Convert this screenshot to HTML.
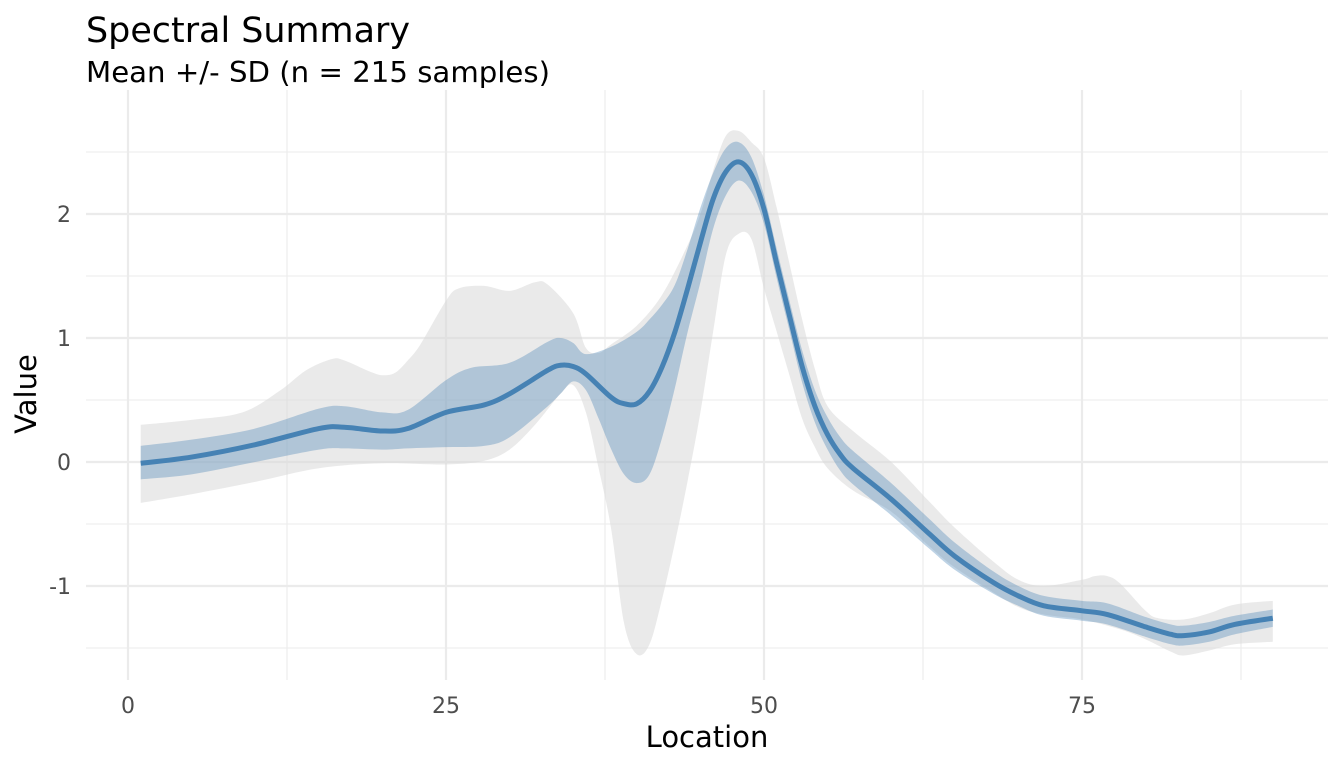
<!DOCTYPE html>
<html><head><meta charset="utf-8"><style>
body{margin:0;background:#fff;}
svg{display:block;font-family:"DejaVu Sans","Liberation Sans",sans-serif;}
</style></head><body>
<svg id="s" width="1344" height="768" xmlns="http://www.w3.org/2000/svg">
<rect width="1344" height="768" fill="#fff"/>
<g id="grid"></g>
<path id="outer" fill="#d9d9d9" fill-opacity="0.55" stroke="none"/>
<path id="inner" fill="#4682b4" fill-opacity="0.35" stroke="none"/>
<path id="mean" fill="none" stroke="#4682b4" stroke-width="5" stroke-linejoin="round"/>
<text x="86" y="42" font-size="35" fill="#000" textLength="324" lengthAdjust="spacingAndGlyphs">Spectral Summary</text>
<text x="86" y="82" font-size="28.5" fill="#000" textLength="464" lengthAdjust="spacingAndGlyphs">Mean +/- SD (n = 215 samples)</text>
<g font-size="22" fill="#4d4d4d" text-anchor="middle">
<text x="128" y="713">0</text><text x="446" y="713">25</text><text x="764" y="713">50</text><text x="1082" y="713">75</text>
</g>
<g font-size="22" fill="#4d4d4d" text-anchor="end">
<text x="71" y="594">-1</text><text x="71" y="470">0</text><text x="71" y="346">1</text><text x="71" y="222">2</text>
</g>
<text x="707" y="747" font-size="29" text-anchor="middle" fill="#000">Location</text>
<text transform="translate(36,394) rotate(-90)" font-size="29" text-anchor="middle" fill="#000">Value</text>
</svg>
<script>
const X=v=>128+v*12.72, Y=v=>462-v*124;
const ns="http://www.w3.org/2000/svg";
const g=document.getElementById('grid');
function line(x1,y1,x2,y2,w){const l=document.createElementNS(ns,'line');l.setAttribute('x1',x1);l.setAttribute('y1',y1);l.setAttribute('x2',x2);l.setAttribute('y2',y2);l.setAttribute('stroke','#ebebeb');l.setAttribute('stroke-width',w);g.appendChild(l);}
[-1.5,-0.5,0.5,1.5,2.5].forEach(v=>line(86,Y(v),1328,Y(v),1.1));
[12.5,37.5,62.5,87.5].forEach(v=>line(X(v),90,X(v),680,1.1));
[-1,0,1,2].forEach(v=>line(86,Y(v),1328,Y(v),2.2));
[0,25,50,75].forEach(v=>line(X(v),90,X(v),680,2.2));
const mean=[[1,-0.01],[5,0.04],[10,0.14],[15,0.27],[17,0.28],[20,0.25],[22,0.27],[25,0.4],[28,0.46],[30,0.55],[33,0.74],[34,0.78],[35,0.77],[36,0.71],[38,0.52],[39,0.47],[40,0.47],[41,0.57],[42,0.77],[43,1.05],[44,1.4],[45,1.77],[46,2.12],[47,2.34],[48,2.42],[49,2.32],[50,2.04],[51,1.6],[52,1.18],[53,0.77],[54,0.45],[55,0.22],[56,0.06],[57,-0.05],[60,-0.3],[63,-0.58],[65,-0.76],[68,-0.97],[70,-1.08],[72,-1.16],[75,-1.2],[77,-1.23],[80,-1.33],[82,-1.39],[83,-1.4],[85,-1.37],[87,-1.31],[90,-1.26]];
const iu=[[1,0.13],[5,0.18],[10,0.27],[15,0.43],[17,0.45],[20,0.4],[22,0.42],[25,0.66],[27,0.76],[30,0.8],[33,0.97],[34,1.0],[35,0.96],[36,0.87],[38,0.93],[40,1.05],[41,1.15],[42,1.27],[43,1.43],[44,1.72],[45,2.05],[46,2.33],[47,2.53],[48,2.58],[49,2.46],[50,2.15],[51,1.72],[52,1.3],[53,0.9],[54,0.58],[55,0.36],[56,0.2],[57,0.09],[60,-0.17],[63,-0.46],[65,-0.65],[68,-0.88],[70,-1.0],[72,-1.08],[75,-1.12],[77,-1.14],[80,-1.25],[82,-1.31],[83,-1.32],[85,-1.29],[87,-1.24],[90,-1.19]];
const il=[[1,-0.14],[5,-0.1],[10,0.0],[15,0.1],[17,0.11],[20,0.1],[22,0.11],[25,0.12],[28,0.13],[30,0.2],[33,0.45],[34,0.55],[35,0.65],[36,0.58],[37,0.35],[38,0.1],[39,-0.1],[40,-0.17],[41,-0.1],[42,0.2],[43,0.6],[44,1.05],[45,1.45],[46,1.88],[47,2.15],[48,2.27],[49,2.18],[50,1.92],[51,1.48],[52,1.06],[53,0.64],[54,0.32],[55,0.1],[56,-0.07],[57,-0.18],[60,-0.43],[63,-0.7],[65,-0.87],[68,-1.06],[70,-1.16],[72,-1.24],[75,-1.28],[77,-1.31],[80,-1.41],[82,-1.47],[83,-1.48],[85,-1.45],[87,-1.39],[90,-1.33]];
const ou=[[1,0.3],[5,0.34],[9,0.4],[12,0.58],[14,0.74],[16,0.83],[17,0.82],[19,0.73],[20,0.7],[21,0.72],[22,0.82],[23,0.95],[25,1.3],[26,1.4],[28,1.42],[30,1.38],[32,1.45],[33,1.43],[35,1.2],[36,0.92],[37,0.88],[38,0.95],[40,1.1],[42,1.35],[44,1.75],[45,2.0],[46,2.35],[47,2.63],[48,2.67],[49,2.58],[50,2.45],[51,2.05],[52,1.6],[53,1.15],[54,0.75],[55,0.45],[57,0.25],[60,0.0],[63,-0.32],[65,-0.53],[68,-0.8],[70,-0.95],[72,-1.0],[75,-0.95],[76,-0.92],[77,-0.92],[78,-0.98],[80,-1.2],[81,-1.26],[83,-1.27],[85,-1.22],[87,-1.15],[90,-1.12]];
const ol=[[1,-0.33],[5,-0.26],[10,-0.16],[15,-0.05],[20,-0.01],[25,-0.02],[28,0.01],[30,0.1],[32,0.3],[34,0.55],[35,0.62],[36,0.4],[37,-0.05],[38,-0.55],[39,-1.3],[40,-1.55],[41,-1.47],[42,-1.1],[43,-0.65],[44,-0.15],[45,0.4],[46,1.05],[47,1.67],[48,1.84],[49,1.8],[50,1.4],[51,1.05],[52,0.7],[53,0.35],[54,0.12],[55,-0.05],[57,-0.23],[60,-0.4],[63,-0.68],[65,-0.85],[68,-1.05],[70,-1.17],[72,-1.23],[75,-1.27],[78,-1.35],[80,-1.43],[82,-1.53],[83,-1.56],[85,-1.52],[87,-1.47],[90,-1.45]];
function pts(a){return a.map(p=>[X(p[0]),Y(p[1])]);}
function cr(p,start){let d=start?'M'+p[0][0]+','+p[0][1]:'L'+p[0][0]+','+p[0][1];
for(let i=0;i<p.length-1;i++){const p0=p[i-1]||p[i],p1=p[i],p2=p[i+1],p3=p[i+2]||p2;
d+=' C'+(p1[0]+(p2[0]-p0[0])/6)+','+(p1[1]+(p2[1]-p0[1])/6)+' '+(p2[0]-(p3[0]-p1[0])/6)+','+(p2[1]-(p3[1]-p1[1])/6)+' '+p2[0]+','+p2[1];}
return d;}
function band(u,l){return cr(pts(u),true)+' '+cr(pts(l).reverse(),false)+'Z';}
document.getElementById('outer').setAttribute('d',band(ou,ol));
document.getElementById('inner').setAttribute('d',band(iu,il));
document.getElementById('mean').setAttribute('d',cr(pts(mean),true));
</script>
</body></html>
